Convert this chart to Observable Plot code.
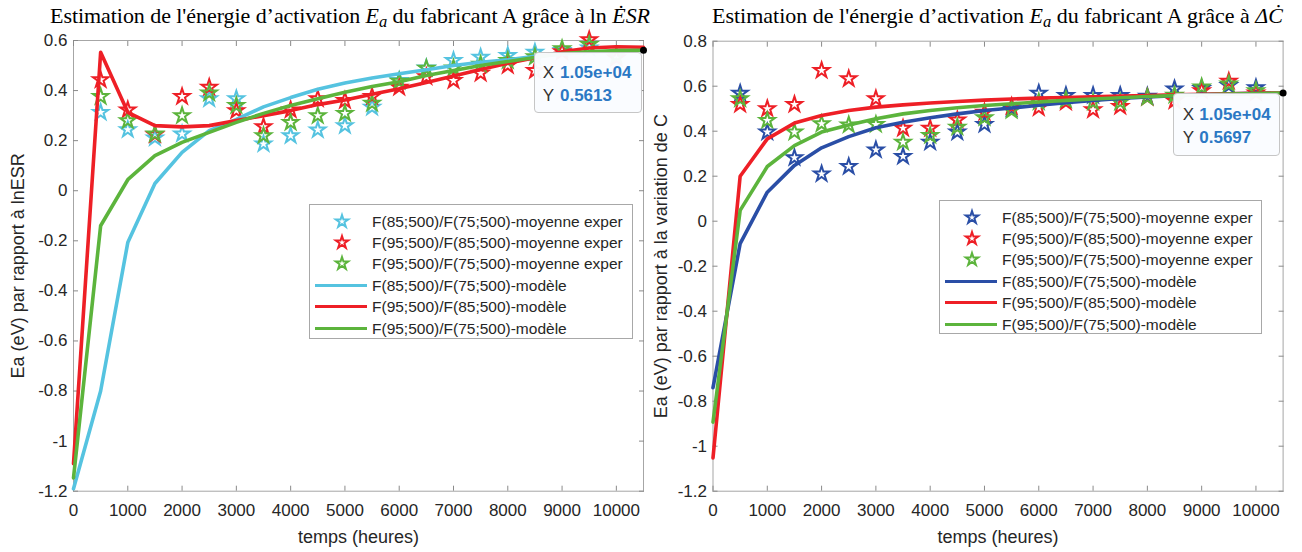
<!DOCTYPE html>
<html><head><meta charset="utf-8">
<script src="https://cdn.jsdelivr.net/npm/d3@7"></script>
<script src="https://cdn.jsdelivr.net/npm/@observablehq/plot@0.6"></script>
<style>
body{margin:0;background:#fff;}
#wrap{position:relative;width:1302px;height:552px;overflow:hidden;font-family:"Liberation Sans",Arial,sans-serif;}
.title{position:absolute;top:3px;font-family:"Liberation Serif","Times New Roman",serif;font-size:22.4px;color:#000;white-space:nowrap;}
.title sub{font-size:0.75em;vertical-align:-0.25em;line-height:0;}
.fig{position:absolute;top:0;}
.fig svg{background:transparent !important;overflow:visible;}
.legend{position:absolute;background:#fff;border:1px solid #a8a8a8;font-size:15.5px;color:#262626;box-sizing:border-box;}
.legend .row{position:absolute;left:0;height:21px;width:100%;}
.legend .row svg{position:absolute;left:0;top:0;}
.legend .row span{position:absolute;left:62px;top:0;line-height:21px;white-space:nowrap;}
.tip{position:absolute;background:rgba(250,252,255,0.97);border:1px solid #c6c6c6;border-radius:4px;box-sizing:border-box;font-size:17px;line-height:22.7px;color:#333;white-space:nowrap;}
.tip b{color:#2b78c4;}
.tip .k{display:inline-block;}
</style>
</head><body>
<div id="wrap"></div>
<script>
// ---------- data ----------
const modelTimes = [0,500,1000,1500,2000,2500,3000,3500,4000,4500,5000,5500,6000,6500,7000,7500,8000,8500,9000,9500,10000,10500];
const expTimes = [500,1000,1500,2000,2500,3000,3500,4000,4500,5000,5500,6000,6500,7000,7500,8000,8500,9000,9500,10000];
const ratioNames = ["F(85;500)/F(75;500)","F(95;500)/F(85;500)","F(95;500)/F(75;500)"];
const xTicks = [0,1000,2000,3000,4000,5000,6000,7000,8000,9000,10000];
const yTicksESR = [-1.2,-1,-0.8,-0.6,-0.4,-0.2,0,0.2,0.4,0.6];
const yTicksC = [-1.2,-1,-0.8,-0.6,-0.4,-0.2,0,0.2,0.4,0.6,0.8];

// Left panel : ln ESR
const esrExp85_75 = [0.313,0.244,0.211,0.227,0.367,0.367,0.187,0.22,0.243,0.26,0.333,0.44,0.49,0.52,0.533,0.54,0.553,0.56,0.57,0.53];
const esrExp95_85 = [0.443,0.323,0.224,0.376,0.413,0.32,0.256,0.323,0.367,0.36,0.376,0.413,0.455,0.44,0.469,0.50,0.48,0.555,0.603,0.53];
const esrExp95_75 = [0.376,0.28,0.227,0.30,0.39,0.34,0.22,0.273,0.30,0.309,0.349,0.437,0.489,0.49,0.505,0.52,0.535,0.567,0.584,0.54];
const esrMod85_75 = [-1.19,-0.80,-0.207,0.029,0.153,0.24,0.285,0.335,0.372,0.405,0.43,0.45,0.467,0.483,0.50,0.513,0.523,0.537,0.545,0.552,0.557,0.5613];
const esrMod95_85 = [-1.09,0.553,0.313,0.26,0.255,0.26,0.28,0.30,0.32,0.344,0.362,0.385,0.407,0.432,0.458,0.484,0.509,0.531,0.555,0.57,0.575,0.573];
const esrMod95_75 = [-1.147,-0.14,0.044,0.14,0.193,0.233,0.273,0.309,0.34,0.367,0.393,0.416,0.435,0.46,0.48,0.50,0.516,0.532,0.548,0.555,0.56,0.5613];
const esrTip = {x: 10500, y: 0.5613};

// Right panel : variation de C
const cExp85_75 = [0.569,0.396,0.282,0.21,0.243,0.317,0.288,0.351,0.396,0.43,0.50,0.569,0.559,0.559,0.559,0.555,0.588,0.59,0.603,0.593];
const cExp95_85 = [0.519,0.50,0.519,0.67,0.633,0.544,0.413,0.413,0.45,0.484,0.51,0.504,0.529,0.495,0.51,0.55,0.535,0.58,0.622,0.57];
const cExp95_75 = [0.544,0.448,0.396,0.433,0.428,0.43,0.351,0.381,0.418,0.46,0.492,0.53,0.54,0.529,0.529,0.55,0.56,0.596,0.61,0.58];
const cMod85_75 = [-0.74,-0.10,0.129,0.248,0.326,0.376,0.415,0.44,0.46,0.477,0.492,0.503,0.515,0.527,0.537,0.545,0.552,0.558,0.563,0.566,0.568,0.5697];
const cMod95_85 = [-1.052,0.20,0.366,0.436,0.47,0.492,0.507,0.517,0.525,0.532,0.538,0.543,0.547,0.550,0.553,0.556,0.559,0.562,0.564,0.566,0.568,0.570];
const cMod95_75 = [-0.893,0.048,0.243,0.336,0.396,0.428,0.455,0.477,0.492,0.504,0.514,0.522,0.53,0.537,0.543,0.549,0.554,0.558,0.562,0.565,0.567,0.5697];
const cTip = {x: 10500, y: 0.5697};

const colorsESR = ["#55c3e0","#ee1f26","#5cb43c"];
const colorsC = ["#2a4ea6","#ee1f26","#5cb43c"];

// ---------- helpers ----------
function tidy(times, arrays){
  const out = [];
  arrays.forEach((arr, s) => arr.forEach((v, i) => out.push({t: times[i], v, s})));
  return out;
}
const fmtY = d => String(+d.toFixed(1));
const fmtX = d => String(d);

function panel(cfg){
  const exp = tidy(expTimes, cfg.exp);
  const mod = tidy(modelTimes, cfg.mod);
  const color = i => cfg.colors[i];
  const blank = () => "";
  const axisCommon = {stroke:"#8a8a8a", tickFormat: blank, label:null, tickSize:-5};
  return Plot.plot({
    width: cfg.width, height: 552,
    marginLeft: cfg.ml, marginRight: cfg.mr, marginTop: cfg.mt, marginBottom: cfg.mb,
    style: {fontFamily: '"Liberation Sans",Arial,sans-serif', fontSize: "17px", color:"#262626", background:"transparent", overflow:"visible"},
    x: {domain:[0,10500]},
    y: {domain: cfg.ydomain},
    marks: [
      Plot.frame({stroke:"#a6a6a6"}),
      Plot.axisX({ticks: xTicks, ...axisCommon}),
      Plot.axisX({anchor:"top", ticks: xTicks, ...axisCommon}),
      Plot.axisY({ticks: cfg.yticks, ...axisCommon}),
      Plot.axisY({anchor:"right", ticks: cfg.yticks, ...axisCommon}),
      Plot.axisX({ticks: xTicks, tickSize:0, tickPadding:13, tickFormat: fmtX, label:null, fill:"#262626"}),
      Plot.axisY({ticks: cfg.yticks, tickSize:0, tickPadding:6, tickFormat: fmtY, label:null, fill:"#262626"}),
      Plot.text(["temps (heures)"], {frameAnchor:"bottom", dy: 52, fontSize: 18, fill:"#262626"}),
      Plot.text([cfg.ylabel], {frameAnchor:"left", textAnchor:"middle", rotate:-90, dx: cfg.ylabelDx, fontSize: 18, fill:"#262626"}),
      Plot.dot(exp, {x:"t", y:"v", stroke: d => color(d.s), symbol:"star", r:4.8, strokeWidth:2, fill:"none"}),
      Plot.line(mod, {x:"t", y:"v", z:"s", stroke: d => color(d.s), strokeWidth:3.6}),
      Plot.dot([cfg.tip], {x:"x", y:"y", fill:"black", r:3.5})
    ]
  });
}

const wrap = document.getElementById("wrap");

function addFig(left, svg){
  const d = document.createElement("div");
  d.className = "fig"; d.style.left = left + "px";
  d.appendChild(svg); wrap.appendChild(d);
}

function addTitle(left, html){
  const t = document.createElement("div");
  t.className = "title"; t.style.left = left + "px"; t.innerHTML = html;
  wrap.appendChild(t);
  return t;
}

const starPath = d3.symbol(d3.symbolStar, 48)();
function addLegend(left, top, width, height, colors){
  const lg = document.createElement("div");
  lg.className = "legend";
  Object.assign(lg.style, {left:left+"px", top:top+"px", width:width+"px", height:height+"px"});
  const labels = [...ratioNames.map(n => n + "-moyenne exper"), ...ratioNames.map(n => n + "-modèle")];
  labels.forEach((lab, i) => {
    const row = document.createElement("div");
    row.className = "row";
    row.style.top = (5.5 + i * 21.4) + "px";
    const c = colors[i % 3];
    const sym = i < 3
      ? `<path d="${starPath}" transform="translate(32,10.5)" fill="none" stroke="${c}" stroke-width="2"/>`
      : `<line x1="5" x2="57" y1="10.5" y2="10.5" stroke="${c}" stroke-width="3.2"/>`;
    row.innerHTML = `<svg width="60" height="21">${sym}</svg><span>${lab}</span>`;
    lg.appendChild(row);
  });
  wrap.appendChild(lg);
}

function addTip(left, top, w, h, tip, padL, keyW){
  const d = document.createElement("div");
  d.className = "tip";
  Object.assign(d.style, {left:left+"px", top:top+"px", width:w+"px", height:h+"px", paddingTop:"9.5px", paddingLeft: padL+"px"});
  d.innerHTML = `<div><span class="k" style="width:${keyW}px">X</span><b>${d3.format(".2e")(tip.x).replace("e+4","e+04")}</b></div>` +
                `<div><span class="k" style="width:${keyW}px">Y</span><b>${tip.y.toFixed(4)}</b></div>`;
  wrap.appendChild(d);
}

// ---------- build ----------
addFig(0, panel({
  width: 652, ml: 73, mr: 9, mt: 40, mb: 61.3,
  ydomain: [-1.2, 0.6], yticks: yTicksESR,
  exp: [esrExp85_75, esrExp95_85, esrExp95_75],
  mod: [esrMod85_75, esrMod95_85, esrMod95_75],
  colors: colorsESR, tip: esrTip,
  ylabel: "Ea (eV) par rapport à lnESR", ylabelDx: -55
}));
addFig(652, panel({
  width: 650, ml: 60.5, mr: 19.4, mt: 40.7, mb: 61.3,
  ydomain: [-1.2, 0.8], yticks: yTicksC,
  exp: [cExp85_75, cExp95_85, cExp95_75],
  mod: [cMod85_75, cMod95_85, cMod95_75],
  colors: colorsC, tip: cTip,
  ylabel: "Ea (eV) par rapport à la variation de C", ylabelDx: -52
}));
const tLeft = addTitle(50, "Estimation de l'énergie d’activation <i>E<sub>a</sub></i> du fabricant A grâce à ln <i>ĖSR</i>");
const tRight = addTitle(712, "Estimation de l'énergie d’activation <i>E<sub>a</sub></i> du fabricant A grâce à <i>ΔĊ</i>");
// fit the right title to its width in the reference, then use the same size for the left one
const base = 22.4;
const fs = base * 571 / tRight.getBoundingClientRect().width;
tRight.style.fontSize = tLeft.style.fontSize = fs + "px";
const wl = tLeft.getBoundingClientRect().width;
const nChars = tLeft.textContent.length;
if (wl > 600) tLeft.style.letterSpacing = ((600 - wl) / nChars) + "px";

addLegend(309, 204, 324, 135, colorsESR);
addLegend(939, 200, 323, 134, colorsC);
addTip(534, 51.7, 108, 61.6, esrTip, 7.7, 17.3);
addTip(1172.7, 93.3, 107.3, 62.7, cTip, 9, 16.6);
</script>
</body></html>
